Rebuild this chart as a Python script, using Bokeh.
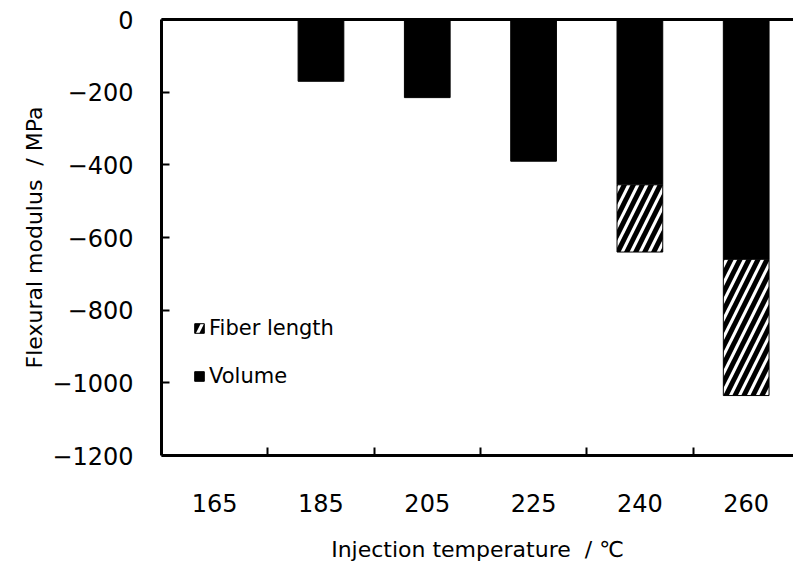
from bokeh.plotting import figure
from bokeh.models import Range1d, FixedTicker, LinearAxis, ColumnDataSource, Legend, LegendItem
from bokeh.embed import file_html
from bokeh.resources import INLINE

# Injection temperature categories and the loss in flexural modulus (MPa)
temperatures = ["165", "185", "205", "225", "240", "260"]
volume = [0, -170, -215, -390, -455, -660]
fiber_length = [0, 0, 0, 0, -185, -375]

y_ticks = [0, -200, -400, -600, -800, -1000, -1200]
y_tick_labels = ["0", "\u2212200", "\u2212400", "\u2212600", "\u2212800", "\u22121000", "\u22121200"]

FONT = "DejaVu Sans"

n = len(temperatures)
centers = [i + 0.5 for i in range(n)]

p = figure(width=793, height=569, output_backend="svg", toolbar_location=None,
           x_range=Range1d(0, 5.945), y_range=Range1d(-1200, 0),
           min_border_left=161, min_border_right=0, min_border_top=19, min_border_bottom=114,
           x_axis_location=None, y_axis_location=None)
p.outline_line_color = None
p.grid.grid_line_color = None
p.background_fill_color = "white"
p.border_fill_color = "white"

# Left value axis
yaxis = LinearAxis(ticker=FixedTicker(ticks=y_ticks))
yaxis.major_label_overrides = dict(zip(y_ticks, y_tick_labels))
yaxis.axis_line_width = 3
yaxis.major_tick_in = 8
yaxis.major_tick_out = 0
yaxis.major_tick_line_width = 2
yaxis.minor_tick_line_color = None
yaxis.major_label_standoff = 28
yaxis.major_label_text_font = FONT
yaxis.major_label_text_font_size = "24px"
yaxis.major_label_text_color = "black"
yaxis.axis_label = "Flexural modulus\u00a0 / MPa"
yaxis.axis_label_text_font = FONT
yaxis.axis_label_text_font_size = "22px"
yaxis.axis_label_text_font_style = "normal"
yaxis.axis_label_text_color = "black"
yaxis.axis_label_standoff = 2
p.add_layout(yaxis, "left")

# Bottom category axis: labels at category centres, ticks on the boundaries
xaxis = LinearAxis(ticker=FixedTicker(ticks=centers, minor_ticks=list(range(1, n))))
xaxis.major_label_overrides = dict(zip(centers, temperatures))
xaxis.axis_line_width = 3
xaxis.major_tick_line_color = None
xaxis.minor_tick_in = 8
xaxis.minor_tick_out = 0
xaxis.minor_tick_line_width = 2
xaxis.major_label_standoff = 32
xaxis.major_label_text_font = FONT
xaxis.major_label_text_font_size = "24px"
xaxis.major_label_text_color = "black"
xaxis.axis_label = "Injection temperature\u00a0 / \u2103"
xaxis.axis_label_text_font = FONT
xaxis.axis_label_text_font_size = "22px"
xaxis.axis_label_text_font_style = "normal"
xaxis.axis_label_text_color = "black"
xaxis.axis_label_standoff = 22
p.add_layout(xaxis, "below")

# Top frame line at zero
top = LinearAxis(ticker=FixedTicker(ticks=[]))
top.axis_line_width = 3
top.major_tick_line_color = None
top.minor_tick_line_color = None
top.major_label_text_font_size = "0px"
p.add_layout(top, "above")

vol_src = ColumnDataSource(dict(
    x=[c for c, v in zip(centers, volume) if v != 0],
    bottom=[v for v in volume if v != 0],
))
fib_src = ColumnDataSource(dict(
    x=[c for c, f in zip(centers, fiber_length) if f != 0],
    top=[v for v, f in zip(volume, fiber_length) if f != 0],
    bottom=[v + f for v, f in zip(volume, fiber_length) if f != 0],
))

r_vol = p.vbar(x="x", top=0, bottom="bottom", width=0.43, source=vol_src,
               fill_color="black", line_color="black", line_width=1)
r_fib = p.vbar(x="x", top="top", bottom="bottom", width=0.43, source=fib_src,
               fill_color="white", line_color="black", line_width=1,
               hatch_pattern="/", hatch_color="black", hatch_weight=5, hatch_scale=18)

legend = Legend(items=[LegendItem(label="Fiber length", renderers=[r_fib]),
                       LegendItem(label="Volume", renderers=[r_vol])],
                location=(32, 66))
legend.border_line_color = None
legend.background_fill_alpha = 0
legend.padding = 0
legend.margin = 0
legend.spacing = 22
legend.glyph_width = 12
legend.glyph_height = 12
legend.label_standoff = 4
legend.label_height = 26
legend.label_text_font = FONT
legend.label_text_font_size = "21px"
legend.label_text_color = "black"
p.add_layout(legend, "center")

open("out.html", "w").write(file_html(p, INLINE))
